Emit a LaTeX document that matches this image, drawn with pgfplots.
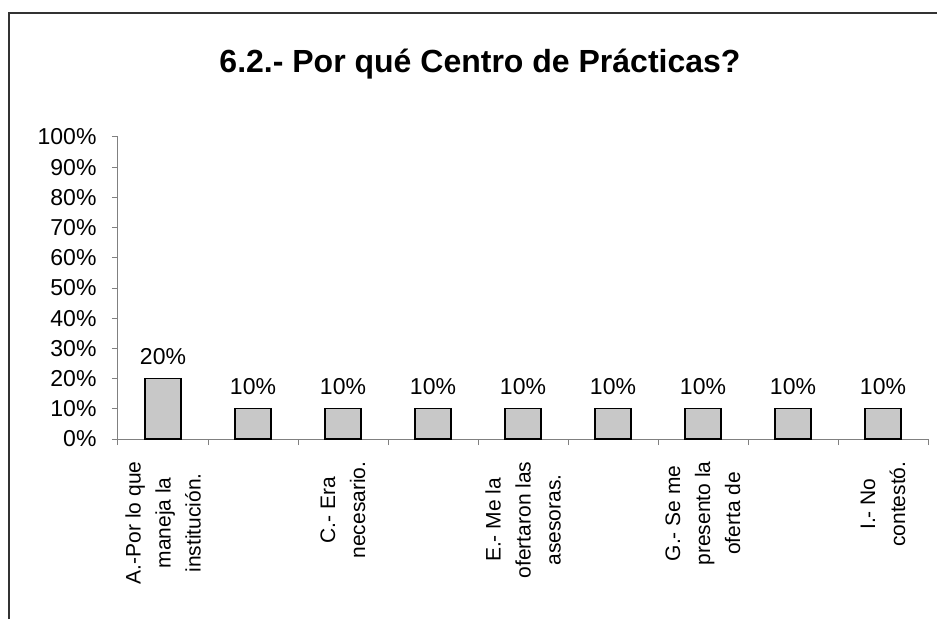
\documentclass[border=0pt]{standalone}
\usepackage{pgfplots}
\pgfplotsset{compat=1.18}
\usepackage{fontspec}
\setmainfont{Liberation Sans}
\definecolor{barfill}{RGB}{200,200,200}
\definecolor{axgray}{RGB}{128,128,128}
\begin{document}
\begin{tikzpicture}[x=1pt,y=1pt]
\path[use as bounding box] (0,0) rectangle (937,619);
\draw[line width=2pt, draw=black!80] (9,0) -- (9,606) -- (937,606);
\node[font=\fontsize{32}{36}\selectfont\bfseries] at (480,555) {6.2.- Por qué Centro de Prácticas?};
\begin{axis}[
  at={(118pt,180pt)}, anchor=south west,
  scale only axis, width=810pt, height=302pt,
  xmin=-0.5, xmax=8.5, ymin=0, ymax=100,
  axis lines=left,
  axis line style={-, draw=axgray, line width=1pt},
  ytick={0,10,...,100},
  yticklabel={\pgfmathprintnumber{\tick}\%},
  /pgf/number format/assume math mode=true,
  xtick={0,2,4,6,8},
  xticklabels={{A.-Por lo que\\maneja la\\institución.},{C.- Era\\necesario.},{E.- Me la\\ofertaron las\\asesoras.},{G.- Se me\\presento la\\oferta de},{I.- No\\contestó.}},
  minor xtick={-0.5,0.5,...,8.5},
  major x tick style={draw=none},
  minor tick length=6pt,
  major tick length=6pt,
  tick align=outside,
  tick style={draw=axgray, line width=1pt},
  ticklabel style={font=\fontsize{23}{26}\selectfont},
  yticklabel style={xshift=-12pt},
  xticklabel style={yshift=-13pt, rotate=90, anchor=east, align=center, font=\fontsize{21}{30}\selectfont},
  nodes near coords={\pgfmathprintnumber{\pgfplotspointmeta}\%},
  nodes near coords style={font=\fontsize{23}{26}\selectfont, yshift=10pt},
  point meta=y,
]
\addplot[ybar, bar width=36pt, fill=barfill, draw=black, line width=1.2pt] coordinates {
(0,20) (1,10) (2,10) (3,10) (4,10) (5,10) (6,10) (7,10) (8,10)};
\end{axis}
\end{tikzpicture}
\end{document}
